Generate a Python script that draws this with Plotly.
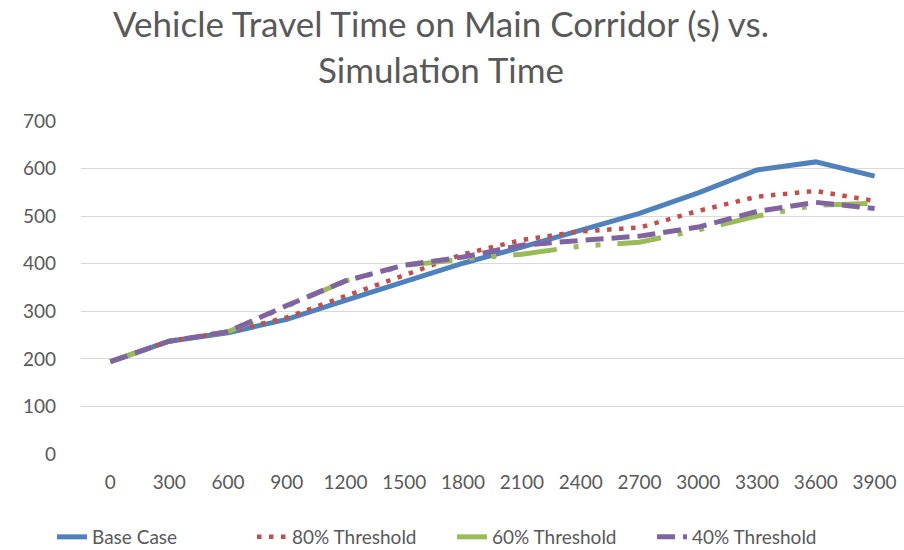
import plotly.graph_objects as go

sim_time = ["0", "300", "600", "900", "1200", "1500", "1800", "2100", "2400", "2700", "3000", "3300", "3600", "3900"]
base_case = [194, 237, 255, 283, 323, 362, 401, 435, 470, 506, 549, 597, 614, 584]
thr_80 = [194, 237, 257, 287, 332, 377, 420, 450, 468, 476, 511, 541, 553, 532]
thr_60 = [194, 237, 257, 311, 364, 396, 410, 420, 437, 445, 471, 500, 523, 527]
thr_40 = [194, 237, 257, 312, 364, 397, 414, 439, 449, 458, 477, 510, 529, 516]
y_ticks = [0, 100, 200, 300, 400, 500, 600, 700]
title_text = "Vehicle Travel Time on Main Corridor (s) vs.<br>Simulation Time"

FONT = "Lato"
GREY = "#595959"

fig = go.Figure()
fig.add_trace(go.Scatter(x=sim_time, y=base_case, mode="lines", name="Base Case",
                         line=dict(color="#4F81BD", width=5)))
fig.add_trace(go.Scatter(x=sim_time, y=thr_80, mode="lines", name="80% Threshold",
                         line=dict(color="#C0504D", width=4.5, dash="4.5px,7.5px")))
fig.add_trace(go.Scatter(x=sim_time, y=thr_60, mode="lines", name="60% Threshold",
                         line=dict(color="#9BBB59", width=5, dash="44px,17px,5px,17px,5px,17px")))
fig.add_trace(go.Scatter(x=sim_time, y=thr_40, mode="lines", name="40% Threshold",
                         line=dict(color="#8064A2", width=5, dash="18px,8px")))

fig.add_annotation(text=title_text, xref="paper", yref="paper", x=0.4374, y=1.363,
                   xanchor="center", yanchor="top", showarrow=False, align="center",
                   font=dict(family=FONT, size=35, color=GREY))

fig.update_layout(
    width=904, height=550,
    paper_bgcolor="white", plot_bgcolor="white",
    margin=dict(l=81, r=0, t=121, b=96),
    font=dict(family=FONT, size=19, color=GREY),
    showlegend=True,
    legend=dict(orientation="h", xref="container", yref="container",
                x=0.5, xanchor="center", y=1 - 537 / 550, yanchor="middle",
                font=dict(family=FONT, size=19, color=GREY), traceorder="normal",
                entrywidth=155, entrywidthmode="pixels"),
    xaxis=dict(type="category", range=[-0.5, 13.5], showgrid=False, showline=False,
               zeroline=False, automargin=False,
               tickfont=dict(family=FONT, size=19, color=GREY), ticks="",
               ticklabelstandoff=15),
    yaxis=dict(range=[0, 700], tickvals=y_ticks, showgrid=True, gridcolor="#D9D9D9",
               gridwidth=1, zeroline=False, showline=False, ticks="", automargin=False,
               tickfont=dict(family=FONT, size=19, color=GREY), ticklabelstandoff=24),
)

fig.write_html("out.html", config={"displayModeBar": False},
               post_script="document.body.style.margin='0';document.body.style.overflow='hidden';")
